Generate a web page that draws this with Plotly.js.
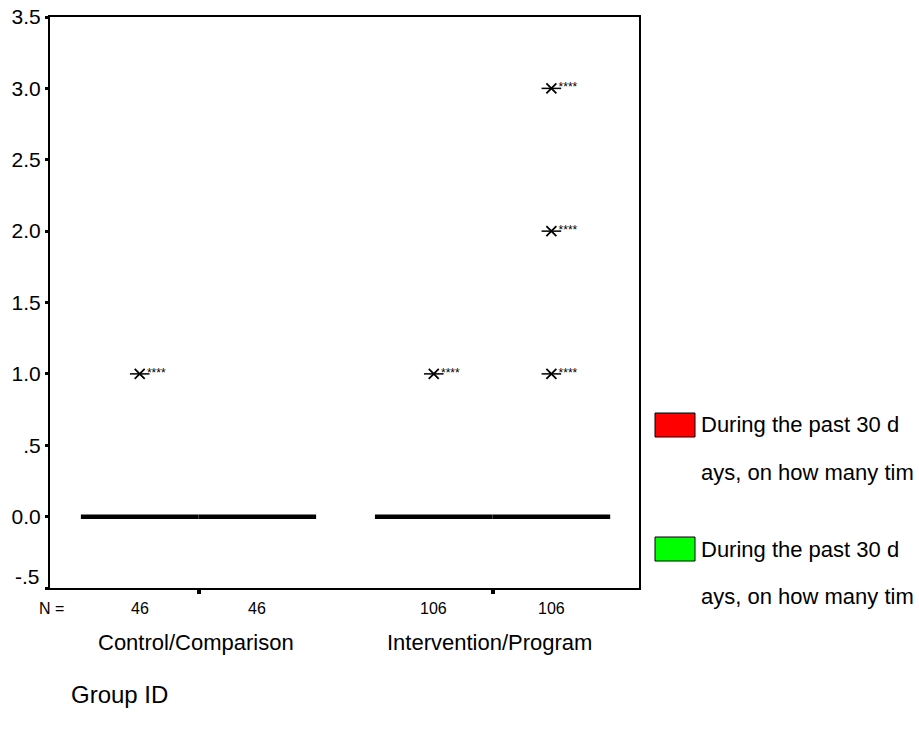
<!DOCTYPE html>
<html>
<head>
<meta charset="utf-8">
<script src="https://cdn.plot.ly/plotly-3.0.1.min.js"></script>
<style>html,body{margin:0;padding:0;background:#fff}#chart{width:919px;height:730px}</style>
</head>
<body>
<div id="chart"></div>
<script>
// ---- data ----
var groups = ['Control/Comparison', 'Intervention/Program'];
var groupPos = [1, 2];
var groupN = [46, 106];
var seriesNames = ['During the past 30 d<br>ays, on how many tim', 'During the past 30 d<br>ays, on how many tim'];
var seriesColors = ['#ff0000', '#00ff00'];
var seriesOffset = [-0.2, 0.2];
// box statistics per series, per group (all degenerate at 0)
var q1Vals = [[0, 0], [0, 0]];
var medVals = [[0, 0], [0, 0]];
var q3Vals = [[0, 0], [0, 0]];
var loVals = [[0, 0], [0, 0]];
var hiVals = [[0, 0], [0, 0]];
// outliers: series index, group index, value
var outSeries = [0, 0, 1, 1, 1];
var outGroup = [0, 1, 1, 1, 1];
var outValue = [1, 1, 1, 2, 3];
var outLabel = ['****', '****', '****', '****', '****'];
var yTickVals = [-0.5, 0, 0.5, 1, 1.5, 2, 2.5, 3, 3.5];
var yTickText = ['-.5', '0.0', '.5', '1.0', '1.5', '2.0', '2.5', '3.0', '3.5'];

// ---- geometry helpers ----
var W = 919, H = 730;
var L = 50, R = 639, T = 17, B = 588;
function px(x) { return (x - L) / (R - L); }
function py(y) { return (B - y) / (B - T); }
var FONT = 'Liberation Sans, Arial, sans-serif';

var traces = [];
for (var s = 0; s < 2; s++) {
  traces.push({
    type: 'box',
    x: groupPos.map(function (g) { return g + seriesOffset[s]; }),
    q1: q1Vals[s], median: medVals[s], q3: q3Vals[s],
    lowerfence: loVals[s], upperfence: hiVals[s],
    width: 0.4,
    fillcolor: seriesColors[s],
    line: { color: '#000', width: 4.5 },
    whiskerwidth: 0,
    boxpoints: false,
    name: seriesNames[s],
    showlegend: false,
    hoverinfo: 'skip'
  });
}
var ox = outValue.map(function (v, i) { return groupPos[outGroup[i]] + seriesOffset[outSeries[i]]; });
traces.push({
  type: 'scatter', mode: 'markers+text', x: ox, y: outValue,
  marker: { symbol: 'x-thin-open', size: 10, line: { color: '#000', width: 1.8 }, color: '#000' },
  text: outLabel, textposition: 'middle right',
  textfont: { family: FONT, size: 12, color: '#000' },
  showlegend: false, hoverinfo: 'skip', cliponaxis: false
});
traces.push({
  type: 'scatter', mode: 'markers', x: ox, y: outValue,
  marker: { symbol: 'line-ew-open', size: 14, line: { color: '#000', width: 1.5 }, color: '#000' },
  showlegend: false, hoverinfo: 'skip', cliponaxis: false
});

var ann = [];
var shapes = [];
// bottom y label drawn raised, as in the original
ann.push({ xref: 'paper', yref: 'paper', x: px(42), y: py(576), xanchor: 'right', yanchor: 'middle', text: yTickText[0], showarrow: false, font: { family: FONT, size: 21, color: '#000' } });
// N labels
ann.push({ xref: 'paper', yref: 'paper', x: px(37), y: py(609), xanchor: 'left', yanchor: 'middle', text: 'N =', showarrow: false, font: { family: FONT, size: 16, color: '#000' } });
for (var g = 0; g < groups.length; g++) {
  for (var s2 = 0; s2 < 2; s2++) {
    ann.push({ xref: 'x', yref: 'paper', x: groupPos[g] + seriesOffset[s2], y: py(609), xanchor: 'center', yanchor: 'middle', text: String(groupN[g]), showarrow: false, font: { family: FONT, size: 16, color: '#000' } });
  }
  ann.push({ xref: 'x', yref: 'paper', x: groupPos[g] - 0.01, y: py(642), xanchor: 'center', yanchor: 'middle', text: groups[g], showarrow: false, font: { family: FONT, size: 22, color: '#000' } });
}
ann.push({ xref: 'paper', yref: 'paper', x: px(69), y: py(695), xanchor: 'left', yanchor: 'middle', text: 'Group ID', showarrow: false, font: { family: FONT, size: 24, color: '#000' } });
// legend
var legTop = [413, 537];
for (var s3 = 0; s3 < 2; s3++) {
  var t0 = legTop[s3];
  shapes.push({ type: 'rect', xref: 'paper', yref: 'paper', x0: px(655), x1: px(695), y0: py(t0), y1: py(t0 + 24), fillcolor: seriesColors[s3], line: { color: '#000', width: 1 } });
  var parts = seriesNames[s3].split('<br>');
  ann.push({ xref: 'paper', yref: 'paper', x: px(699), y: py(t0 + 12), xanchor: 'left', yanchor: 'middle', text: parts[0], showarrow: false, font: { family: FONT, size: 22, color: '#000' } });
  ann.push({ xref: 'paper', yref: 'paper', x: px(699), y: py(t0 + 59), xanchor: 'left', yanchor: 'middle', text: parts[1], showarrow: false, font: { family: FONT, size: 22, color: '#000' } });
}

var layout = {
  width: W, height: H,
  margin: { l: L, r: W - R, t: T, b: H - B, pad: 0 },
  paper_bgcolor: '#fff', plot_bgcolor: '#fff',
  showlegend: false,
  xaxis: {
    range: [0.495, 2.498], tickvals: groupPos, ticktext: ['', ''],
    ticks: 'outside', ticklen: 4, tickwidth: 4, tickcolor: '#000',
    showgrid: false, zeroline: false, showline: true, linecolor: '#000', linewidth: 2, mirror: true
  },
  yaxis: {
    range: [-0.5, 3.5], tickvals: yTickVals, ticktext: [''].concat(yTickText.slice(1)),
    ticks: 'outside', ticklen: 3, tickwidth: 3, tickcolor: '#000',
    tickfont: { family: FONT, size: 21, color: '#000' },
    showgrid: false, zeroline: false, showline: true, linecolor: '#000', linewidth: 2, mirror: true
  },
  annotations: ann,
  shapes: shapes
};
Plotly.newPlot('chart', traces, layout, { displayModeBar: false, staticPlot: true });
</script>
</body>
</html>
